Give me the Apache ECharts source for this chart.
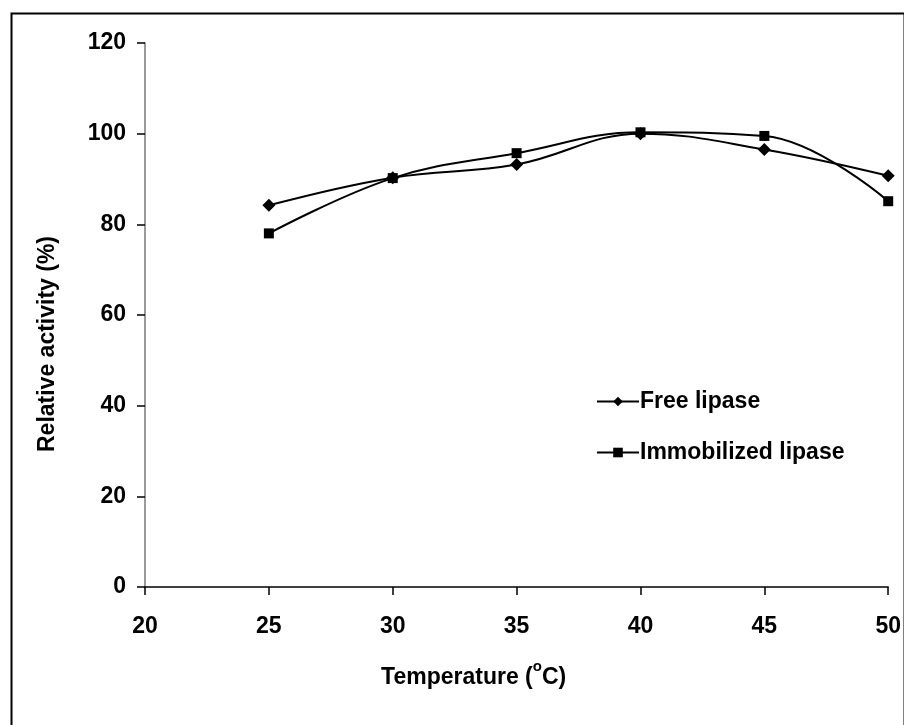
<!DOCTYPE html>
<html>
<head>
<meta charset="utf-8">
<script src="https://cdn.jsdelivr.net/npm/echarts@6/dist/echarts.min.js"></script>
<style>
  html, body { margin: 0; padding: 0; background: #fff; }
  #chart { width: 904px; height: 725px; }
</style>
</head>
<body>
<div id="chart"></div>
<script>
const temperatures = [25, 30, 35, 40, 45, 50];
const freeLipase = [84.2, 90.3, 93.2, 100.0, 96.5, 90.7];
const immobilizedLipase = [78.0, 90.2, 95.7, 100.3, 99.5, 85.1];
const xTicks = { min: 20, max: 50, step: 5 };
const yTicks = { min: 0, max: 120, step: 20 };

const font = "Arial, 'Liberation Sans', sans-serif";

const toPairs = (values) => temperatures.map((t, i) => [t, values[i]]);

const chart = echarts.init(document.getElementById("chart"));

const option = {
  backgroundColor: "#ffffff",
  animation: false,
  grid: { left: 145, right: 15, top: 43, bottom: 138 },
  legend: {
    orient: "vertical",
    left: 591,
    top: 384,
    itemWidth: 42,
    itemHeight: 12,
    itemGap: 26,
    textStyle: {
      fontFamily: font,
      fontWeight: "bold",
      fontSize: 23,
      lineHeight: 25,
      color: "#000",
      padding: [0, 0, 0, -4],
    },
    data: ["Free lipase", "Immobilized lipase"],
  },
  xAxis: {
    type: "value",
    min: xTicks.min,
    max: xTicks.max,
    interval: xTicks.step,
    name: "{t|Temperature (}{sup|o}{t|C)}",
    nameLocation: "middle",
    nameGap: 72,
    nameTextStyle: {
      fontFamily: font,
      fontWeight: "bold",
      fontSize: 23,
      color: "#000",
      padding: [0, 86, 0, 0],
      rich: {
        t: { fontFamily: font, fontWeight: "bold", fontSize: 23, lineHeight: 30, verticalAlign: "bottom" },
        sup: { fontFamily: font, fontWeight: "bold", fontSize: 15, lineHeight: 15, verticalAlign: "top" },
      },
    },
    splitLine: { show: false },
    axisLine: { lineStyle: { color: "#000", width: 1.5 } },
    axisTick: { length: 8, lineStyle: { color: "#000", width: 1.5 } },
    axisLabel: {
      fontFamily: font,
      fontWeight: "bold",
      fontSize: 23,
      color: "#000",
      margin: 28,
    },
  },
  yAxis: {
    type: "value",
    min: yTicks.min,
    max: yTicks.max,
    interval: yTicks.step,
    name: "Relative activity (%)",
    nameLocation: "middle",
    nameGap: 86,
    nameTextStyle: {
      fontFamily: font,
      fontWeight: "bold",
      fontSize: 23,
      color: "#000",
      padding: [0, 58, 0, 0],
    },
    splitLine: { show: false },
    axisLine: { show: true, lineStyle: { color: "#777", width: 1.5 } },
    axisTick: { show: true, length: 8, lineStyle: { color: "#000", width: 1.5 } },
    axisLabel: {
      fontFamily: font,
      fontWeight: "bold",
      fontSize: 23,
      color: "#000",
      margin: 19,
    },
  },
  series: [
    {
      name: "Free lipase",
      type: "line",
      data: toPairs(freeLipase),
      smooth: 0.4,
      symbol: "diamond",
      symbolSize: 13,
      itemStyle: { color: "#000" },
      lineStyle: { color: "#000", width: 2 },
    },
    {
      name: "Immobilized lipase",
      type: "line",
      data: toPairs(immobilizedLipase),
      smooth: 0.4,
      symbol: "rect",
      symbolSize: 10,
      itemStyle: { color: "#000" },
      lineStyle: { color: "#000", width: 2 },
    },
  ],
  graphic: [
    {
      type: "rect",
      left: 9,
      top: 11,
      shape: { width: 893, height: 714 },
      style: { fill: null, stroke: "#000", lineWidth: 2 },
      z: 100,
    },
  ],
};

chart.setOption(option);
window.addEventListener("resize", () => chart.resize());
</script>
</body>
</html>
